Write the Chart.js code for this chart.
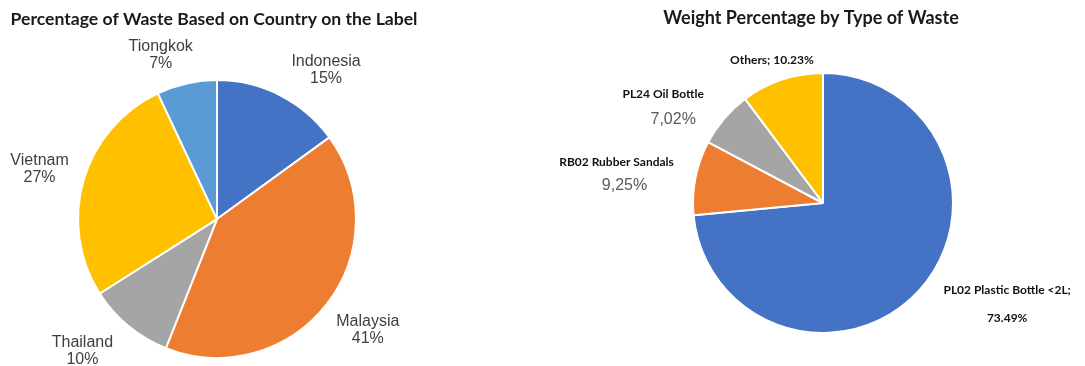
<!DOCTYPE html>
<html>
<head>
<meta charset="utf-8">
<script src="https://cdn.jsdelivr.net/npm/chart.js@4/dist/chart.umd.min.js"></script>
<style>
  body { margin: 0; background: #fff; }
  .box { position: absolute; top: 0; height: 366px; }
  #countryBox { left: 0; width: 434px; }
  #typeBox { left: 549px; width: 524px; }
</style>
</head>
<body>
<div class="box" id="countryBox"><canvas id="countryChart"></canvas></div>
<div class="box" id="typeBox"><canvas id="typeChart"></canvas></div>
<script>
var countries = ["Indonesia", "Malaysia", "Thailand", "Vietnam", "Tiongkok"];
var countryPct = [15, 41, 10, 27, 7];
var countryColors = ["#4472C4", "#ED7D31", "#A5A5A5", "#FFC000", "#5B9BD5"];

var wasteTypes = ["PL02 Plastic Bottle <2L", "RB02 Rubber Sandals", "PL24 Oil Bottle", "Others"];
var wastePct = [73.49, 9.25, 7.02, 10.23];
var wasteColors = ["#4472C4", "#ED7D31", "#A5A5A5", "#FFC000"];

var boldSmall = "bold 12px Lato";
var plainPct = "16px 'Liberation Sans', Arial";

// draws text beside each slice, offset from the middle of its outer edge
var sliceText = {
  id: "sliceText",
  afterLayout: function (chart, args, opts) {
    // the title can sit off the pie's centre line
    var shift = opts.titleShift || 0;
    if (chart.titleBlock) {
      chart.titleBlock.left += shift;
      chart.titleBlock.right += shift;
    }
  },
  afterDatasetsDraw: function (chart, args, opts) {
    var ctx = chart.ctx;
    var names = chart.data.labels;
    var values = chart.data.datasets[0].data;
    chart.getDatasetMeta(0).data.forEach(function (arc, i) {
      var p = arc.getProps(["x", "y", "startAngle", "endAngle", "outerRadius"], true);
      var mid = (p.startAngle + p.endAngle) / 2;
      var ex = p.x + Math.cos(mid) * p.outerRadius;
      var ey = p.y + Math.sin(mid) * p.outerRadius;
      ctx.save();
      ctx.textAlign = "center";
      ctx.textBaseline = "middle";
      opts.rows(names[i], values[i], i).forEach(function (r) {
        ctx.font = r.font;
        ctx.fillStyle = r.color;
        ctx.fillText(r.text, ex + r.dx, ey + r.dy);
      });
      ctx.restore();
    });
  }
};

var countryOffsets = [[46, -25], [41, 26], [-46, 25], [-44, -11], [-26, -28]];

new Chart("countryChart", {
  type: "pie",
  data: {
    labels: countries,
    datasets: [{
      data: countryPct,
      backgroundColor: countryColors,
      borderColor: "#fff",
      borderWidth: 2
    }]
  },
  options: {
    responsive: true,
    maintainAspectRatio: false,
    animation: false,
    layout: { padding: { top: 0, bottom: 7, left: 0, right: 0 } },
    plugins: {
      legend: { display: false },
      tooltip: { enabled: false },
      title: {
        display: true,
        text: "Percentage of Waste Based on Country on the Label",
        color: "#1a1a1a",
        font: { family: "Lato", size: 17.6, weight: "bold" },
        padding: { top: 9, bottom: 49 }
      },
      sliceText: {
        titleShift: -3,
        rows: function (name, v, i) {
          var o = countryOffsets[i];
          return [
            { text: name, font: plainPct, color: "#404040", dx: o[0], dy: o[1] - 8.5 },
            { text: v + "%", font: plainPct, color: "#404040", dx: o[0], dy: o[1] + 8.5 }
          ];
        }
      }
    }
  },
  plugins: [sliceText]
});

new Chart("typeChart", {
  type: "pie",
  data: {
    labels: wasteTypes,
    datasets: [{
      data: wastePct,
      backgroundColor: wasteColors,
      borderColor: "#fff",
      borderWidth: 2
    }]
  },
  options: {
    responsive: true,
    maintainAspectRatio: false,
    animation: false,
    layout: { padding: { top: 0, bottom: 32, left: 24, right: 0 } },
    plugins: {
      legend: { display: false },
      tooltip: { enabled: false },
      title: {
        display: true,
        text: "Weight Percentage by Type of Waste",
        color: "#1a1a1a",
        font: { family: "Lato", size: 18, weight: "bold" },
        padding: { top: 7, bottom: 43.4 }
      },
      sliceText: {
        titleShift: -12,
        rows: function (name, v, i) {
          var dot = v.toFixed(2) + "%";
          var comma = dot.replace(".", ",");
          if (i === 0) {
            return [
              { text: name + ";", font: boldSmall, color: "#111", dx: 88, dy: 0 },
              { text: dot, font: boldSmall, color: "#111", dx: 88, dy: 28 }
            ];
          }
          if (i === 1) {
            return [
              { text: name, font: boldSmall, color: "#111", dx: -79, dy: -16 },
              { text: comma, font: plainPct, color: "#595959", dx: -71, dy: 8 }
            ];
          }
          if (i === 2) {
            return [
              { text: name, font: boldSmall, color: "#111", dx: -61, dy: -24 },
              { text: comma, font: plainPct, color: "#595959", dx: -51, dy: 1 }
            ];
          }
          return [
            { text: name + "; " + dot, font: boldSmall, color: "#111", dx: -10, dy: -20 }
          ];
        }
      }
    }
  },
  plugins: [sliceText]
});
</script>
</body>
</html>
